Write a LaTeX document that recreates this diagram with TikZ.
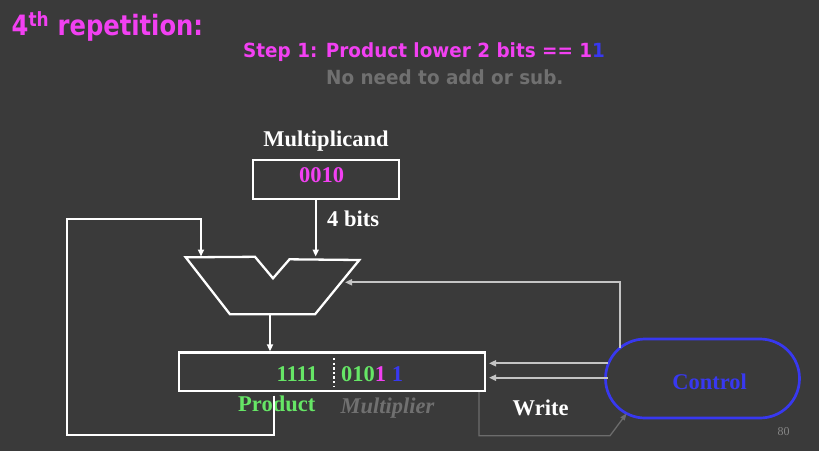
\documentclass[tikz,border=0pt]{standalone}
\usepackage{fontspec}
\setmainfont{Liberation Serif}
\newfontfamily\dsanstitle{DejaVu Sans}[FakeStretch=0.865]
\newfontfamily\dsansstep{DejaVu Sans}[FakeStretch=0.943]
\usetikzlibrary{arrows.meta,calc}
\definecolor{bg}{RGB}{58,58,58}
\definecolor{mag}{RGB}{242,64,242}
\definecolor{grn}{RGB}{102,230,102}
\definecolor{blu}{RGB}{56,56,240}
\definecolor{gtxt}{RGB}{112,112,112}
\definecolor{gline}{RGB}{196,196,196}
\definecolor{wline}{RGB}{108,108,108}
\begin{document}
\begin{tikzpicture}[x=1pt,y=-1pt,
  lbl/.style={inner sep=0, font=\fontsize{22.5}{26}\selectfont\bfseries, anchor=base},
  hdr/.style={inner sep=0, anchor=base west},
  box/.style={draw=white, line width=2.3pt, inner sep=0, rectangle},
  wire/.style={draw=white, line width=2.3pt},
  gwire/.style={draw=gline, line width=2.3pt},
  tip/.style={-{Triangle[length=7pt,width=6pt]}},
  stip/.style={-{Triangle[length=7pt,width=5pt]}}]
\fill[bg] (0,0) rectangle (819,451);
\useasboundingbox (0,0) rectangle (819,451);

% headings
\node[hdr, font=\dsanstitle\bfseries\fontsize{28}{32}\selectfont, text=mag] (title) at (11.5,35.7) {4\textsuperscript{th} repetition:};
\node[hdr, font=\dsansstep\bfseries\fontsize{19.5}{23}\selectfont, text=mag] (step) at (243,57.3) {Step 1: Product lower 2 bits == 1\textcolor{blu}{1}};
\node[hdr, font=\dsansstep\bfseries\fontsize{19.5}{23}\selectfont, text=gtxt] (noneed) at (326,84.5) {No need to add or sub.};

% multiplicand
\node[lbl, text=white] (mclbl) at (326,146.7) {Multiplicand};
\node[box, minimum width=146pt, minimum height=39pt] (mcand) at (326.3,179.5) {};
\node[lbl, text=mag] (mcval) at (321.7,182) {0010};
\node[lbl, text=white, anchor=base west] (bits) at (327,226) {4 bits};

% ALU
\draw[wire, line join=miter] (185.7,257.3) -- (255,256.8) -- (273,278.3) -- (289.5,259.3) -- (359.3,260) -- (315,314.3) -- (230,314.3) -- cycle;
\coordinate (aluA) at (201,256.5);
\coordinate (aluB) at (315.7,256.5);
\coordinate (aluO) at (270,314.3);
\coordinate (aluR) at (345,282.3);

% product register
\node[box, minimum width=306pt, minimum height=38.5pt] (prod) at (332,371.75) {};
\node[lbl, text=grn, anchor=base west] (hi) at (276.5,381.7) {1111};
\node[lbl, anchor=base west] (lo) at (341,381.7) {\textcolor{grn}{010}\textcolor{mag}{1} \textcolor{blu}{1}};
\draw[white, line width=2.6pt, dash pattern=on 2.4pt off 2.2pt] (334,358) -- (334,386);
\node[lbl, text=grn, anchor=base west] (plbl) at (238,411) {Product};
\node[lbl, text=gtxt, anchor=base west, font=\fontsize{22.5}{26}\selectfont\bfseries\itshape] (mlbl) at (340.5,413) {Multiplier};

% control
\node[draw=blu, line width=2.7pt, rounded corners=39.5pt, minimum width=194pt, minimum height=79pt, inner sep=0] (ctrl) at (702.5,378.5) {};
\node[lbl, text=blu] (ctrltxt) at (709.7,389) {Control};
\node[lbl, text=white, anchor=base west] (wlbl) at (512.5,415.7) {Write};
\node[inner sep=0, anchor=base, font=\fontsize{12}{14}\selectfont, text=gtxt!85!white] (pg) at (783.5,435) {80};

% connectors
\draw[wire, tip] (mcand.south -| aluB) -- (aluB);
\draw[wire, tip] (aluO) -- (prod.north -| aluO);
\coordinate (lp) at (274.3,395.5);
\draw[wire, tip] (lp) |- (67.3,435.3) |- (201,219.3) -- (aluA);
\coordinate (c1) at (620,347.5);
\draw[gwire, tip] (c1) |- (aluR);
\coordinate (c2) at (608.3,363.3);
\coordinate (c3) at (607.7,377.7);
\draw[gwire, tip] (c2) -- (489,363.3);
\draw[gwire, tip] (c3) -- (489,377.7);
\coordinate (w0) at (479,392);
\coordinate (w1) at (626.7,413.3);
\draw[draw=wline, line width=1.3pt, stip] (w0) |- (610,435.7) -- (w1);
\end{tikzpicture}
\end{document}
